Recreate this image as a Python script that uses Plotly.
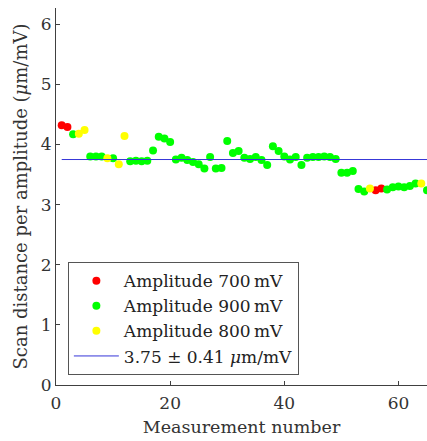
import plotly.graph_objects as go

# Measurement index, scan distance per amplitude (um/mV) and drive amplitude (mV)
measurement = list(range(1, 66))
scan_per_amp = [
    4.32, 4.29, 4.17, 4.18, 4.24, 3.80, 3.80, 3.80, 3.77, 3.77,
    3.67, 4.14, 3.72, 3.73, 3.72, 3.73, 3.90, 4.13, 4.10, 4.04,
    3.75, 3.78, 3.74, 3.71, 3.67, 3.60, 3.79, 3.60, 3.61, 4.06,
    3.86, 3.89, 3.78, 3.76, 3.79, 3.74, 3.66, 3.97, 3.89, 3.80,
    3.75, 3.79, 3.66, 3.78, 3.79, 3.79, 3.80, 3.79, 3.76, 3.53,
    3.53, 3.56, 3.26, 3.22, 3.27, 3.24, 3.27, 3.25, 3.29, 3.30,
    3.29, 3.31, 3.35, 3.35, 3.24,
]
amplitude = [
    700, 700, 900, 800, 800, 900, 900, 900, 800, 900,
    800, 800, 900, 900, 900, 900, 900, 900, 900, 900,
    900, 900, 900, 900, 900, 900, 900, 900, 900, 900,
    900, 900, 900, 900, 900, 900, 900, 900, 900, 900,
    900, 900, 900, 900, 900, 900, 900, 900, 900, 900,
    900, 900, 900, 900, 800, 700, 700, 900, 900, 900,
    900, 900, 900, 800, 900,
]
mean_value = 3.75
std_value = 0.41

groups = [(700, "#ff0000"), (900, "#00ff00"), (800, "#ffff00")]
FONT = "DejaVu Serif"

fig = go.Figure()
for amp, color in groups:
    xs = [m for m, a in zip(measurement, amplitude) if a == amp]
    ys = [v for v, a in zip(scan_per_amp, amplitude) if a == amp]
    fig.add_trace(go.Scatter(
        x=xs, y=ys, mode="markers",
        marker=dict(color=color, size=8, line=dict(width=0)),
        name=f"Amplitude {amp}\u2009mV",
    ))

fig.add_trace(go.Scatter(
    x=[measurement[0], measurement[-1] + 1], y=[mean_value, mean_value],
    mode="lines", line=dict(color="#3535d8", width=1),
    name=f"{mean_value:.2f} \u00b1 {std_value:.2f} <i>\u03bc</i>m/mV",
))

axis_common = dict(
    showline=True, linecolor="#404040", linewidth=1,
    ticks="inside", ticklen=4, tickcolor="#404040",
    showgrid=False, zeroline=False,
    tickfont=dict(family=FONT, size=17, color="#333333"),
    mirror=False,
)

fig.update_layout(
    width=427, height=441,
    margin=dict(l=56, r=0, t=8, b=56),
    paper_bgcolor="white", plot_bgcolor="white",
    font=dict(family=FONT, color="#333333"),
    xaxis=dict(range=[0, 65], tickvals=[0, 20, 40, 60], ticklabelstandoff=3,
               title=dict(text="Measurement number", font=dict(family=FONT, size=17.5), standoff=8),
               **axis_common),
    yaxis=dict(range=[0, 6.27], tickvals=[0, 1, 2, 3, 4, 5, 6],
               title=dict(text="Scan distance per amplitude (<i>\u03bc</i>m/mV)",
                          font=dict(family=FONT, size=18), standoff=8),
               **axis_common),
    legend=dict(
        x=0.032, y=0.326, xanchor="left", yanchor="top",
        bgcolor="white", bordercolor="#555555", borderwidth=1,
        font=dict(family=FONT, size=17, color="#222222"),
        itemwidth=45, tracegroupgap=0,
    ),
    showlegend=True,
)

fig.write_html("out.html")
